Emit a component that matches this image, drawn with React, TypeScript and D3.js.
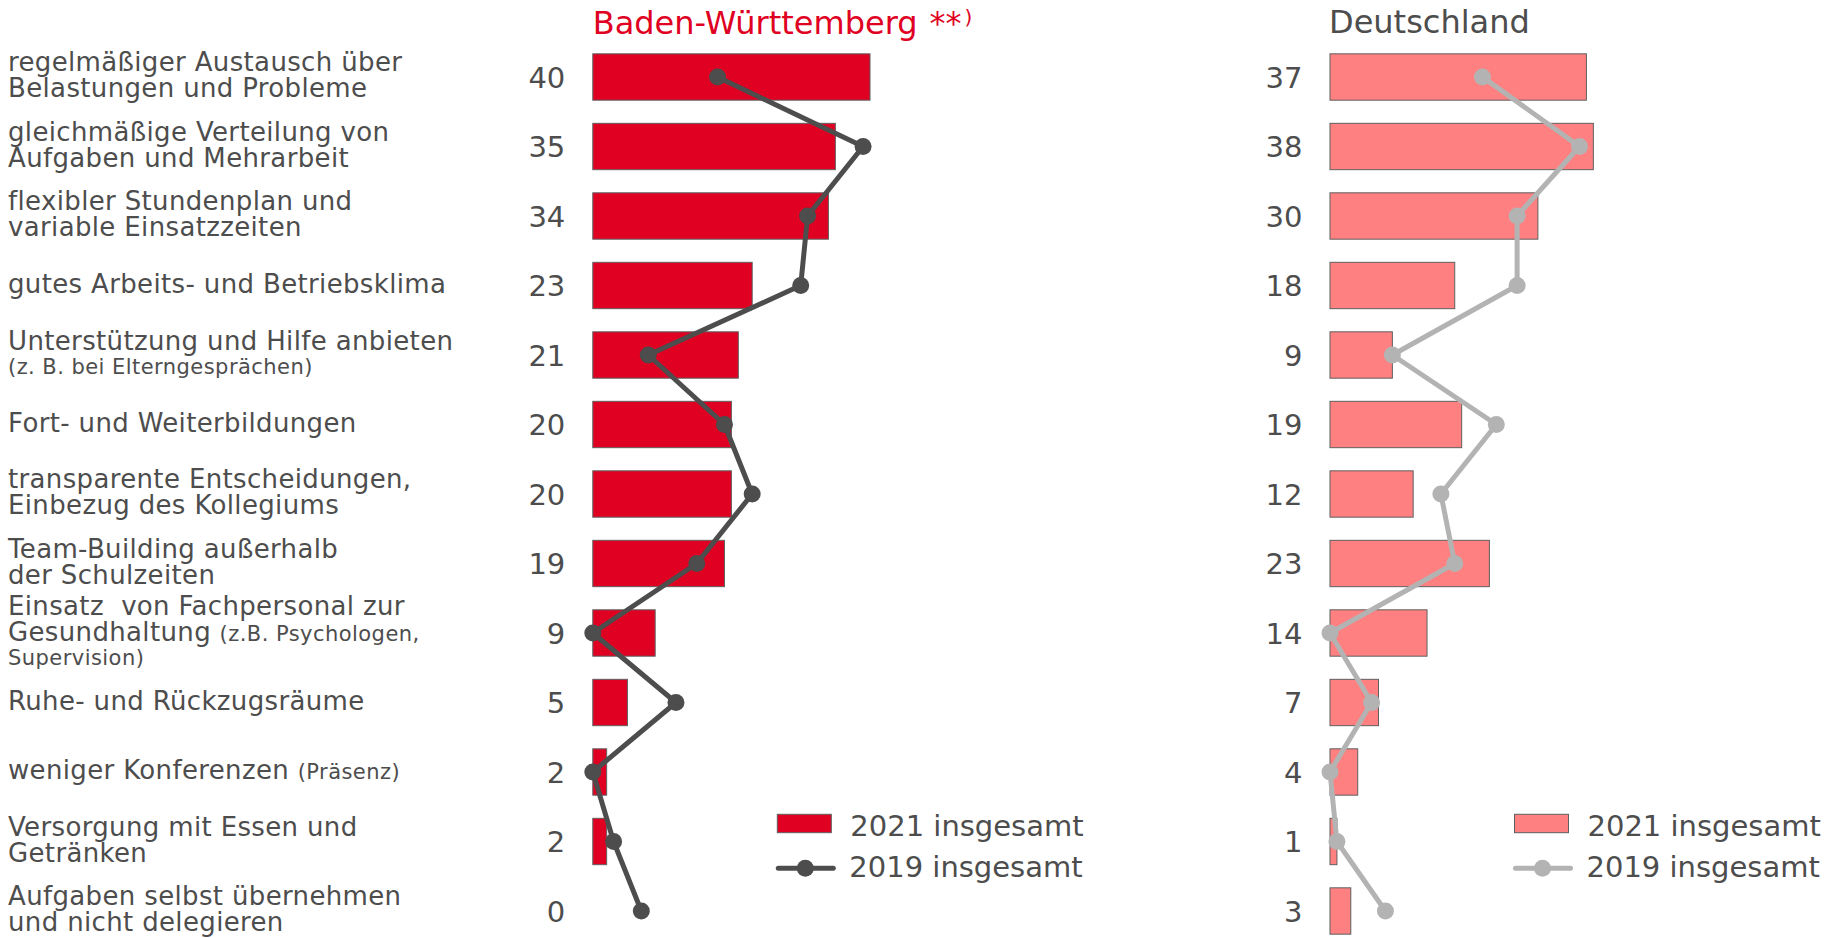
import React from 'react';
import * as d3 from 'd3';

// categories (small parts in {} are drawn in a smaller font)
const labels = [
  'regelmäßiger Austausch über\nBelastungen und Probleme',
  'gleichmäßige Verteilung von\nAufgaben und Mehrarbeit',
  'flexibler Stundenplan und\nvariable Einsatzzeiten',
  'gutes Arbeits- und Betriebsklima',
  'Unterstützung und Hilfe anbieten\n{(z. B. bei Elterngesprächen)}',
  'Fort- und Weiterbildungen',
  'transparente Entscheidungen,\nEinbezug des Kollegiums',
  'Team-Building außerhalb\nder Schulzeiten',
  'Einsatz  von Fachpersonal zur\nGesundhaltung {(z.B. Psychologen,}\n{Supervision)}',
  'Ruhe- und Rückzugsräume',
  'weniger Konferenzen {(Präsenz)}',
  'Versorgung mit Essen und\nGetränken',
  'Aufgaben selbst übernehmen\nund nicht delegieren',
];

const bw2021 = [40, 35, 34, 23, 21, 20, 20, 19, 9, 5, 2, 2, 0];
const bw2019 = [18, 39, 31, 30, 8, 19, 23, 15, 0, 12, 0, 3, 7];
const de2021 = [37, 38, 30, 18, 9, 19, 12, 23, 14, 7, 4, 1, 3];
const de2019 = [22, 36, 27, 27, 9, 24, 16, 18, 0, 6, 0, 1, 8];

const legendLabels = ['2021 insgesamt', '2019 insgesamt'];

const W = 1839;
const H = 938;
const FONT = '"DejaVu Sans", Verdana, sans-serif';
const TEXT = '#4d4d4d';
const RED = '#e00022';
const PINK = '#ff8080';
const DARK = '#4d4d4d';
const LIGHT = '#b3b3b3';

const idx = labels.map((_, i) => i);
const y = d3.scaleBand<number>().domain(idx).range([42.25, 945.75]).paddingInner(0.333).paddingOuter(0.1665);
const x = d3.scaleLinear().domain([0, 40]).range([0, 277.2]);
const cy = (i: number) => (y(i) as number) + y.bandwidth() / 2;

function parseLine(line: string) {
  const parts: { t: string; small: boolean }[] = [];
  const re = /\{([^}]*)\}|([^{]+)/g;
  let m;
  while ((m = re.exec(line))) {
    if (m[1] !== undefined) parts.push({ t: m[1], small: true });
    else parts.push({ t: m[2], small: false });
  }
  return parts;
}

function Label({ text, i }: { text: string; i: number }) {
  const lines = text.split('\n').map(parseLine);
  // spacing: 26 between normal lines, a bit less before a line that is only small text
  const gaps = lines.slice(1).map((l) => (l.every((p) => p.small) ? 24.5 : 26));
  const total = d3.sum(gaps);
  let base = cy(i) + 7 - total / 2;
  return (
    <g>
      {lines.map((parts, li) => {
        if (li > 0) base += gaps[li - 1];
        return (
          <text key={li} x={8} y={base} fontSize={26} fill={TEXT} style={{ whiteSpace: 'pre' }}>
            {parts.map((p, k) => (
              <tspan key={k} fontSize={p.small ? 21 : 26} letterSpacing={p.small ? 0.45 : 0.35}>
                {p.t}
              </tspan>
            ))}
          </text>
        );
      })}
    </g>
  );
}

function Panel({
  x0,
  bars,
  line,
  fill,
  lineColor,
}: {
  x0: number;
  bars: number[];
  line: number[];
  fill: string;
  lineColor: string;
}) {
  const path = d3
    .line<number>()
    .x((d) => x0 + x(d))
    .y((_, i) => cy(i))(line);
  const lx = x0 + 184.5;
  return (
    <g>
      {bars.map((v, i) => (
        <text key={'v' + i} x={x0 - 27.5} y={cy(i) + 10.5} textAnchor="end" fontSize={29} fill={TEXT}>
          {v}
        </text>
      ))}
      {bars.map((v, i) =>
        v > 0 ? (
          <rect
            key={'b' + i}
            x={x0}
            y={y(i)}
            width={x(v)}
            height={y.bandwidth()}
            fill={fill}
            stroke="#5f5f5f"
            strokeWidth={1}
          />
        ) : null
      )}
      <path d={path || ''} fill="none" stroke={lineColor} strokeWidth={5} strokeLinejoin="round" />
      {line.map((v, i) => (
        <circle key={'c' + i} cx={x0 + x(v)} cy={cy(i)} r={8.5} fill={lineColor} />
      ))}
      {/* legend */}
      <rect x={lx} y={814.3} width={54} height={18.4} fill={fill} stroke="#5f5f5f" strokeWidth={1} />
      <text x={lx + 73} y={836} fontSize={29} fill={TEXT}>
        {legendLabels[0]}
      </text>
      <line x1={lx + 1} x2={lx + 56} y1={868.3} y2={868.3} stroke={lineColor} strokeWidth={5} strokeLinecap="round" />
      <circle cx={lx + 28} cy={868.3} r={8.5} fill={lineColor} />
      <text x={lx + 72} y={877} fontSize={29} fill={TEXT}>
        {legendLabels[1]}
      </text>
    </g>
  );
}

export default function App() {
  return (
    <svg
      width={W}
      height={H}
      style={{ position: 'absolute', left: 0, top: 0, display: 'block', background: '#fff' }}
      fontFamily={FONT}
    >
      {labels.map((t, i) => (
        <Label key={i} text={t} i={i} />
      ))}
      <text x={592.7} y={34.3} fontSize={32} fill={RED}>
        Baden-Württemberg
        <tspan dx={12} fontSize={32}>
          **
        </tspan>
        <tspan dx={3} dy={-10} fontSize={20}>
          )
        </tspan>
      </text>
      <text x={1329} y={33.3} fontSize={32} fill={TEXT}>
        Deutschland
      </text>
      <Panel x0={592.8} bars={bw2021} line={bw2019} fill={RED} lineColor={DARK} />
      <Panel x0={1330} bars={de2021} line={de2019} fill={PINK} lineColor={LIGHT} />
    </svg>
  );
}
